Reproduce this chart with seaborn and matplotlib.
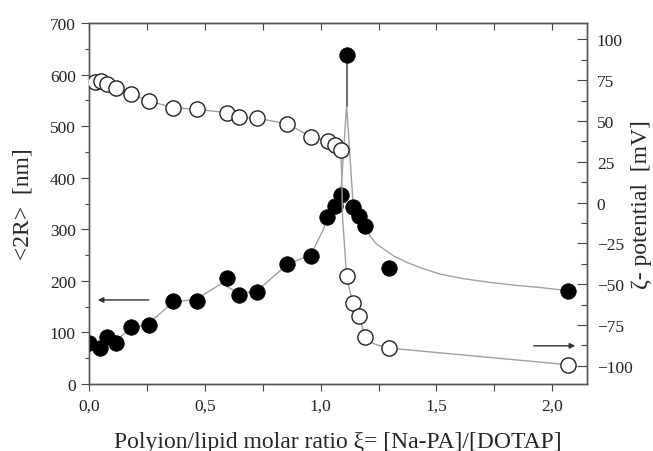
import matplotlib
matplotlib.use("Agg")
import matplotlib.pyplot as plt
from matplotlib.ticker import MultipleLocator, FuncFormatter
import seaborn as sns

# Points: hydrodynamic size (left axis) and zeta potential (right axis)
size_x = [0.002, 0.047, 0.079, 0.115, 0.181, 0.259, 0.361, 0.465, 0.594, 0.646, 0.724,
          0.856, 0.957, 1.029, 1.062, 1.087, 1.112, 1.141, 1.167, 1.192, 1.297, 2.069]
size_nm = [80, 69, 92, 80, 110, 115, 160, 161, 206, 173, 179,
           233, 248, 324, 346, 366, 638, 343, 325, 307, 224, 181]

zeta_x = [0.024, 0.050, 0.076, 0.115, 0.181, 0.259, 0.361, 0.465, 0.594, 0.646, 0.724,
          0.853, 0.957, 1.033, 1.062, 1.088, 1.112, 1.138, 1.167, 1.192, 1.296, 2.069]
zeta_mv = [74.1, 74.5, 72.9, 70.4, 66.5, 62.2, 58.2, 57.1, 55.1, 52.2, 51.6,
           48.4, 40.4, 37.7, 35.3, 32.0, -44.9, -61.7, -69.4, -82.7, -89.2, -99.4]

# guide curves
fit_size_x = [0.0, 0.047, 0.115, 0.181, 0.259, 0.361, 0.465, 0.573, 0.646, 0.724, 0.856,
              0.957, 1.012, 1.029, 1.062, 1.087, 1.112, 1.141, 1.167, 1.192, 1.213, 1.24,
              1.271, 1.32, 1.372, 1.44, 1.516, 1.62, 1.731, 1.85, 1.95, 2.069]
fit_size_y = [70, 76, 84, 108, 118, 158, 165, 195, 176, 180, 232,
              250, 300, 324, 346, 368, 540, 343, 325, 307, 287, 272,
              262, 247, 236, 224, 213, 204, 197, 191, 187, 181]
spike_x = [1.112, 1.112]
spike_y = [540, 638]

fit_zeta_x = [0.024, 0.050, 0.076, 0.115, 0.181, 0.259, 0.361, 0.465, 0.594, 0.646, 0.724,
              0.853, 0.957, 1.033, 1.062, 1.088, 1.095, 1.112, 1.138, 1.167, 1.192, 1.215,
              1.242, 1.296, 2.069]
fit_zeta_y = [74.1, 74.5, 72.9, 70.4, 66.5, 62.2, 58.2, 57.1, 55.1, 52.2, 51.6,
              48.4, 40.4, 37.7, 35.3, 32.0, -10, -44.9, -61.7, -69.4, -82.7, -85.5,
              -87.2, -89.2, -99.4]

sns.set_style("ticks")
plt.rcParams["font.family"] = ["Liberation Serif", "DejaVu Serif"]

fig = plt.figure(figsize=(6.53, 4.52), dpi=100)
ax = fig.add_axes([0.1363, 0.1482, 0.7627, 0.7987])
ax2 = ax.twinx()

line_col = "#a0a0a0"
sns.lineplot(x=fit_size_x, y=fit_size_y, sort=False, estimator=None, ax=ax,
             color=line_col, lw=1.0, zorder=1)
sns.lineplot(x=spike_x, y=spike_y, sort=False, estimator=None, ax=ax,
             color="#606060", lw=1.3, zorder=1)
sns.scatterplot(x=size_x, y=size_nm, ax=ax, s=125, color="black",
                edgecolor="black", linewidth=0.5, zorder=3)

sns.lineplot(x=fit_zeta_x, y=fit_zeta_y, sort=False, estimator=None, ax=ax2,
             color=line_col, lw=1.0, zorder=1)
sns.scatterplot(x=zeta_x, y=zeta_mv, ax=ax2, s=120, color="white",
                edgecolor="#222222", linewidth=1.0, zorder=3)

ax.set_xlim(0, 2.15)
ax.set_ylim(0, 700)
ax2.set_ylim(-111.2, 110)

comma = FuncFormatter(lambda v, p: f"{v:.1f}".replace(".", ","))
ax.xaxis.set_major_locator(MultipleLocator(0.5))
ax.xaxis.set_minor_locator(MultipleLocator(0.25))
ax.xaxis.set_major_formatter(comma)
ax.yaxis.set_major_locator(MultipleLocator(100))
ax.yaxis.set_minor_locator(MultipleLocator(50))
ax2.yaxis.set_major_locator(MultipleLocator(25))
ax2.yaxis.set_minor_locator(MultipleLocator(12.5))

tick_col = "#444444"
ax.tick_params(axis="x", which="both", direction="out", length=5, width=0.8,
               labelsize=12.5, pad=5, colors=tick_col, labelcolor="#222222")
ax.tick_params(axis="y", which="major", direction="out", length=6, width=0.8,
               labelsize=12.5, colors=tick_col, labelcolor="#222222")
ax.tick_params(axis="y", which="minor", direction="out", length=3, width=0.8, colors=tick_col)
ax2.tick_params(axis="y", which="major", direction="in", length=7, width=0.8, pad=7,
                labelsize=12.5, colors=tick_col, labelcolor="#222222")
ax2.tick_params(axis="y", which="minor", direction="in", length=4, width=0.8, colors=tick_col)

top = ax.secondary_xaxis("top")
top.xaxis.set_major_locator(MultipleLocator(0.25))
top.tick_params(axis="x", which="both", direction="in", length=5, width=0.8,
                labeltop=False, colors=tick_col)

for a in (ax, ax2):
    for sp in a.spines.values():
        sp.set_visible(True)
        sp.set_color("#555555")
        sp.set_linewidth(1.0)
top.spines["top"].set_color("#555555")

ax.set_xlabel("Polyion/lipid molar ratio ξ= [Na-PA]/[DOTAP]", fontsize=17, labelpad=12)
ax.set_ylabel("<2R>  [nm]", fontsize=17)
ax2.set_ylabel("ζ- potential  [mV]", fontsize=17)
ax.yaxis.set_label_coords(-0.112, 0.5)
ax2.yaxis.set_label_coords(1.088, 0.5)

ax.annotate("", xy=(0.026, 163), xytext=(0.27, 163),
            arrowprops=dict(arrowstyle="-|>", color="#333333", lw=1.0, mutation_scale=8))
ax2.annotate("", xy=(2.111, -87.8), xytext=(1.908, -87.8),
             arrowprops=dict(arrowstyle="-|>", color="#333333", lw=1.0, mutation_scale=8))

fig.savefig("out.png", dpi=100)
